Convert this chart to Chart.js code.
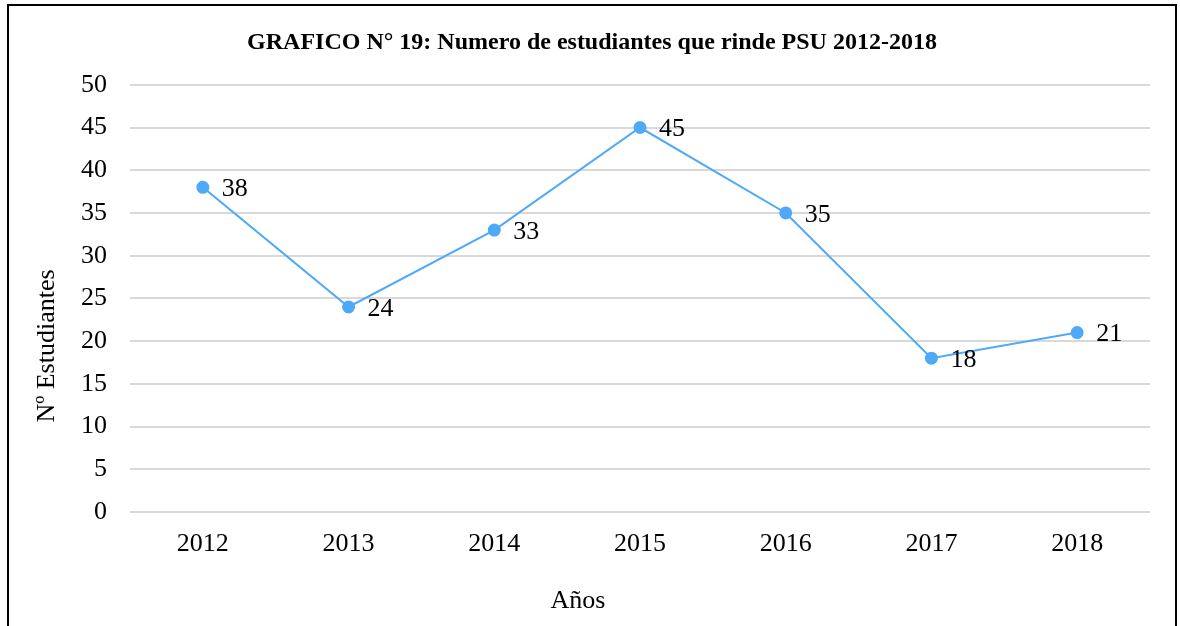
<!DOCTYPE html>
<html lang="es">
<head>
    <meta charset="UTF-8">
    <title>GRAFICO N° 19</title>
    <script src="https://cdn.jsdelivr.net/npm/chart.js"></script>
    <style>
        html, body { margin: 0; padding: 0; overflow: hidden; background: #fff; }
        #frame {
            position: absolute;
            left: 7px;
            top: 4px;
            width: 1166px;
            height: 640px;
            border: 2px solid #000;
        }
        #wrap { width: 1166px; height: 620px; }
    </style>
</head>
<body>
    <div id="frame">
        <div id="wrap"><canvas id="psuChart"></canvas></div>
    </div>
    <script>
        // datos
        const years = ['2012', '2013', '2014', '2015', '2016', '2017', '2018'];
        const students = [38, 24, 33, 45, 35, 18, 21];
        const xTitle = 'Años';
        const yTitle = 'Nº Estudiantes';

        const serif = "'Liberation Serif', 'Times New Roman', serif";
        const lineColor = '#4fa9f9';

        // etiquetas de valor y titulos de ejes (posicion como en el original)
        const extraText = {
            id: 'extraText',
            afterDatasetsDraw(chart) {
                const ctx = chart.ctx;
                const meta = chart.getDatasetMeta(0);
                ctx.save();
                ctx.font = '26px ' + serif;
                ctx.fillStyle = '#000';
                ctx.textAlign = 'left';
                ctx.textBaseline = 'middle';
                meta.data.forEach((pt, i) => {
                    ctx.fillText(String(students[i]), pt.x + 19, pt.y + 2);
                });

                ctx.textAlign = 'center';
                ctx.fillText(xTitle, 569, 595);

                ctx.translate(38, 340);
                ctx.rotate(-Math.PI / 2);
                ctx.fillText(yTitle, 0, 0);
                ctx.restore();
            }
        };

        new Chart(document.getElementById('psuChart'), {
            type: 'line',
            data: {
                labels: years,
                datasets: [{
                    data: students,
                    borderColor: lineColor,
                    backgroundColor: lineColor,
                    borderWidth: 2,
                    pointRadius: 5.5,
                    pointHoverRadius: 5.5,
                    tension: 0,
                    fill: false
                }]
            },
            options: {
                responsive: true,
                maintainAspectRatio: false,
                animation: false,
                layout: { padding: 0 },
                plugins: {
                    legend: { display: false },
                    tooltip: { enabled: false },
                    title: {
                        display: true,
                        text: 'GRAFICO N° 19: Numero de estudiantes que rinde PSU 2012-2018',
                        color: '#000',
                        font: { family: serif, size: 24, weight: 'bold' },
                        padding: { top: 22, bottom: 28 }
                    }
                },
                scales: {
                    x: {
                        offset: true,
                        grid: { display: false, drawTicks: false },
                        border: { display: false },
                        ticks: {
                            color: '#000',
                            font: { family: serif, size: 26 },
                            padding: 17,
                            maxRotation: 0
                        },
                        afterFit(scale) { scale.height = 114; }
                    },
                    y: {
                        min: 0,
                        max: 50,
                        ticks: {
                            stepSize: 5,
                            color: '#000',
                            font: { family: serif, size: 26 },
                            padding: 23
                        },
                        grid: { color: '#d9d9d9', lineWidth: 2, drawTicks: false },
                        border: { display: false },
                        afterFit(scale) { scale.width = 121; }
                    },
                    // eje vacio a la derecha: solo reserva margen
                    yRight: {
                        position: 'right',
                        min: 0,
                        max: 50,
                        grid: { display: false, drawTicks: false },
                        border: { display: false },
                        ticks: { display: false },
                        afterFit(scale) { scale.width = 25; }
                    }
                }
            },
            plugins: [extraText]
        });
    </script>
</body>
</html>
